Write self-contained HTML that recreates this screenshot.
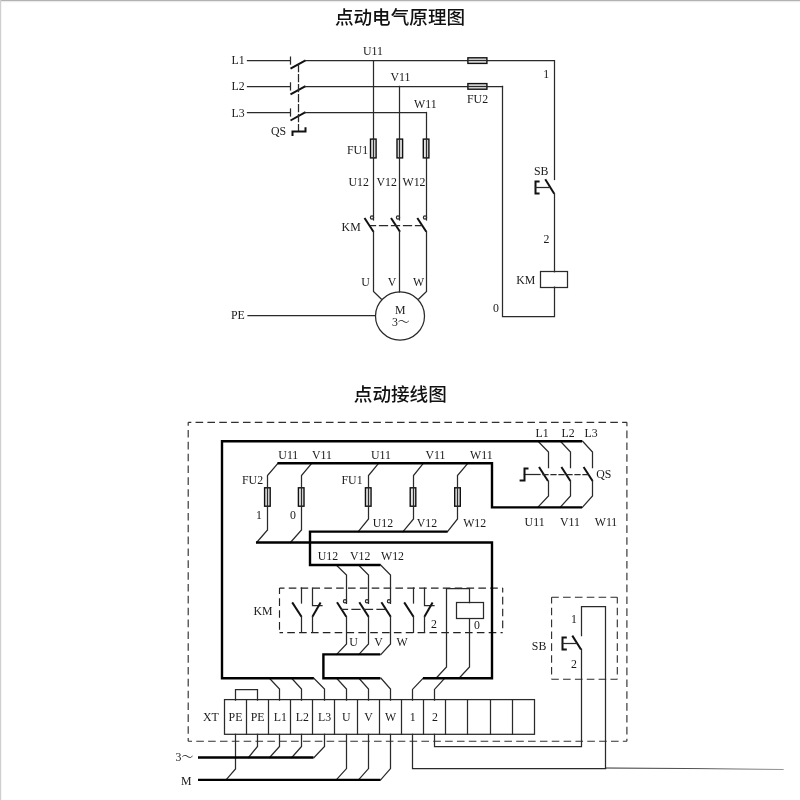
<!DOCTYPE html>
<html lang="zh">
<head>
<meta charset="utf-8">
<title>点动电气原理图</title>
<style>
html,body{margin:0;padding:0;background:#fff;}
body{width:800px;height:800px;overflow:hidden;}
svg{display:block;}
.t{stroke:#2a2a2a;stroke-width:1.25;fill:none;stroke-linecap:square;}
.f{stroke:#111;stroke-width:1.4;fill:#e4e4e4;}
.b{stroke:#111;stroke-width:2.0;fill:none;stroke-linecap:butt;}
.k{stroke:#000;stroke-width:2.4;fill:none;stroke-linejoin:miter;}
.lb{font-family:"Liberation Serif","Noto Serif CJK SC",serif;font-size:12.9px;fill:#1a1a1a;}
.ti{font-family:"Liberation Sans","Noto Sans CJK SC",sans-serif;font-size:18.6px;font-weight:500;fill:#111;}
</style>
</head>
<body>
<svg width="800" height="800" viewBox="0 0 800 800">
<defs>
<linearGradient id="fade" gradientUnits="userSpaceOnUse" x1="605" y1="0" x2="790" y2="0">
<stop offset="0" stop-color="#2a2a2a"/><stop offset="0.5" stop-color="#555"/><stop offset="1" stop-color="#999"/>
</linearGradient>
</defs>
<rect x="0" y="0" width="800" height="800" fill="#fff"/>
<rect x="0" y="0" width="800" height="1.2" fill="#b2b2b2"/>
<rect x="0" y="1.2" width="800" height="1" fill="#ececec"/>
<rect x="0" y="0" width="1.2" height="800" fill="#cfcfcf"/>
<g id="thin">
<path class="t" d="M247.5 60.5 L290 60.5"/>
<path class="t" d="M290.5 57.1 L290.5 64.1"/>
<path class="b" d="M290.5 68.6 L305.5 60.3"/>
<path class="t" d="M305 60.5 L554.4 60.5"/>
<path class="t" d="M247.5 86.5 L290 86.5"/>
<path class="t" d="M290.5 82.9 L290.5 89.9"/>
<path class="b" d="M290.5 94.4 L305.5 86.1"/>
<path class="t" d="M305 86.5 L502.5 86.5"/>
<path class="t" d="M247.5 112.5 L290 112.5"/>
<path class="t" d="M290.5 109 L290.5 116"/>
<path class="b" d="M290.5 120.5 L305.5 112.2"/>
<path class="t" d="M305 112.5 L426.1 112.5"/>
<path class="t" d="M298.5 64.6 L298.5 131" stroke-dasharray="7 3" stroke-linecap="butt" stroke-width="0.9"/>
<path class="b" d="M292.5 136 L292.5 131.5 L305.5 131.5 L305.5 127.2" stroke-width="1.3"/>
<rect class="f" x="467.9" y="57.8" width="19" height="5.6"/>
<path class="t" d="M467.9 60.5 L486.9 60.5" stroke-width="0.8"/>
<rect class="f" x="467.9" y="83.6" width="19" height="5.6"/>
<path class="t" d="M467.9 86.5 L486.9 86.5" stroke-width="0.8"/>
<path class="t" d="M373.5 60.6 L373.5 220"/>
<rect class="f" x="370.5" y="139.1" width="5.6" height="18.8"/>
<path class="t" d="M373.5 139 L373.5 158" stroke-width="0.8"/>
<path class="b" d="M364.5 218 L373.5 231.8"/>
<path class="t" d="M399.5 86.4 L399.5 220"/>
<rect class="f" x="397" y="139.1" width="5.6" height="18.8"/>
<path class="t" d="M399.5 139 L399.5 158" stroke-width="0.8"/>
<path class="b" d="M391 218 L400 231.8"/>
<path class="t" d="M426.5 112.5 L426.5 220"/>
<rect class="f" x="423.3" y="139.1" width="5.6" height="18.8"/>
<path class="t" d="M426.5 139 L426.5 158" stroke-width="0.8"/>
<path class="b" d="M417.3 218 L426.3 231.8"/>
<path class="t" d="M370.5 225.5 L421 225.5" stroke-width="1.05" stroke-linecap="butt" stroke-dasharray="8 4" stroke-dashoffset="3"/>
<path class="t" d="M373.5 231.5 L373.5 291.5 L381.3 299"/>
<path class="t" d="M399.5 231.5 L399.5 292"/>
<path class="t" d="M426.5 231.5 L426.5 291.5 L418.7 299"/>
<path class="t" d="M248 315.5 L375.4 315.5"/>
<path class="t" d="M554.5 60.75 L554.5 179.5"/>
<path class="b" d="M545.25 179.2 L554.25 193.75"/>
<path class="t" d="M554.5 193.75 L554.5 271.75"/>
<rect class="t" x="540.5" y="271.5" width="27" height="16" fill="none"/>
<path class="t" d="M554.5 287.2 L554.5 316.5 L502.5 316.5 L502.5 86.25"/>
<path class="b" d="M539.6 181.5 L535.5 181.5 L535.5 193.5 L539.6 193.5" stroke-width="1.4"/>
<path class="t" d="M535.5 187.5 L549 187.5" stroke-width="1.2"/>
<path d="M188.2 422.3 L626.9 422.3" fill="none" stroke="#303030" stroke-width="1.15" stroke-dasharray="7.6 4.25" stroke-dashoffset="4.5"/>
<path d="M188.2 422.3 L188.2 741.2" fill="none" stroke="#303030" stroke-width="1.15" stroke-dasharray="7.6 4.25" stroke-dashoffset="4.2"/>
<path d="M188.2 741.2 L626.9 741.2" fill="none" stroke="#303030" stroke-width="1.15" stroke-dasharray="7.6 4.25" stroke-dashoffset="3.8"/>
<path d="M626.9 422.3 L626.9 741.2" fill="none" stroke="#303030" stroke-width="1.15" stroke-dasharray="7.6 4.25" stroke-dashoffset="3.6"/>
<path class="t" d="M538 441.2 L548.5 452 L548.5 467.5"/>
<path class="b" d="M539 467 L548 481"/>
<path class="t" d="M548.5 481 L548.5 496 L537.7 507.4"/>
<path class="t" d="M560.4 441.2 L570.5 452 L570.5 467.5"/>
<path class="b" d="M561.4 467 L570.4 481"/>
<path class="t" d="M570.5 481 L570.5 496 L560.1 507.4"/>
<path class="t" d="M582.6 441.2 L592.5 452 L592.5 467.5"/>
<path class="b" d="M583.6 467 L592.6 481"/>
<path class="t" d="M592.5 481 L592.5 496 L582.3 507.4"/>
<path class="t" d="M524.4 474.5 L540 474.5" stroke-width="1"/>
<path class="t" d="M543 474.5 L590 474.5" stroke-dasharray="5 3" stroke-linecap="butt" stroke-width="1"/>
<path class="b" d="M528.5 468.5 L524.5 468.5 L524.5 480.5 L519.6 480.5" stroke-width="1.35"/>
<path class="t" d="M278.1 463.2 L267.5 475.5 L267.5 530 L256.6 542.5"/>
<rect class="f" x="264.6" y="487.8" width="5.6" height="18.4"/>
<path class="t" d="M267.5 487.8 L267.5 506.2" stroke-width="0.8"/>
<path class="t" d="M311.9 463.2 L301.5 475.5 L301.5 530 L290.4 542.5"/>
<rect class="f" x="298.4" y="487.8" width="5.6" height="18.4"/>
<path class="t" d="M301.5 487.8 L301.5 506.2" stroke-width="0.8"/>
<path class="t" d="M378.75 463.2 L368.5 475.5 L368.5 519 L358.25 531.6"/>
<rect class="f" x="365.45" y="487.8" width="5.6" height="18.4"/>
<path class="t" d="M368.5 487.8 L368.5 506.2" stroke-width="0.8"/>
<path class="t" d="M423.5 463.2 L413.5 475.5 L413.5 519 L403 531.6"/>
<rect class="f" x="410.2" y="487.8" width="5.6" height="18.4"/>
<path class="t" d="M413.5 487.8 L413.5 506.2" stroke-width="0.8"/>
<path class="t" d="M468 463.2 L457.5 475.5 L457.5 519 L447.5 531.6"/>
<rect class="f" x="454.7" y="487.8" width="5.6" height="18.4"/>
<path class="t" d="M457.5 487.8 L457.5 506.2" stroke-width="0.8"/>
<path d="M279.5 588.1 L502.7 588.1" fill="none" stroke="#222" stroke-width="1.15" stroke-dasharray="7.6 4.25" stroke-dashoffset="2.6"/>
<path d="M279.5 588.1 L279.5 632.6" fill="none" stroke="#222" stroke-width="1.15" stroke-dasharray="7.6 4.25" stroke-dashoffset="1.6"/>
<path d="M279.5 632.6 L502.7 632.6" fill="none" stroke="#222" stroke-width="1.15" stroke-dasharray="7.6 4.25" stroke-dashoffset="4.1"/>
<path d="M502.7 588.1 L502.7 632.6" fill="none" stroke="#222" stroke-width="1.15" stroke-dasharray="7.6 4.25" stroke-dashoffset="3.1"/>
<path class="t" d="M301.5 588 L301.5 603"/>
<path class="b" d="M292.2 602.4 L301.5 616.8"/>
<path class="t" d="M301.5 616.5 L301.5 632.4"/>
<path class="t" d="M413.5 588 L413.5 603"/>
<path class="b" d="M404.2 602.4 L413.5 616.8"/>
<path class="t" d="M413.5 616.5 L413.5 632.4"/>
<path class="t" d="M312.5 588 L312.5 605.5 L322 605.5"/>
<path class="b" d="M320.6 602.6 L312.4 616.8"/>
<path class="t" d="M312.5 616.5 L312.5 632.4"/>
<path class="t" d="M424.5 588 L424.5 605.5 L434 605.5"/>
<path class="b" d="M432.6 602.6 L424.4 616.8"/>
<path class="t" d="M424.5 616.5 L424.5 632.4"/>
<path class="t" d="M336.2 565 L346.5 575 L346.5 603.4"/>
<path class="b" d="M337 602.3 L346.3 616.8"/>
<path class="t" d="M346.5 616.5 L346.5 644 L336.6 654.4"/>
<path class="t" d="M336.6 678.2 L346.5 689 L346.5 700"/>
<path class="t" d="M346.5 734.4 L346.5 768.6 L336.2 779.9"/>
<path class="t" d="M358.5 565 L368.5 575 L368.5 603.4"/>
<path class="b" d="M359.3 602.3 L368.6 616.8"/>
<path class="t" d="M368.5 616.5 L368.5 644 L358.9 654.4"/>
<path class="t" d="M358.9 678.2 L368.5 689 L368.5 700"/>
<path class="t" d="M368.5 734.4 L368.5 768.6 L358.5 779.9"/>
<path class="t" d="M380.6 565 L390.5 575 L390.5 603.4"/>
<path class="b" d="M381.4 602.3 L390.7 616.8"/>
<path class="t" d="M390.5 616.5 L390.5 644 L381 654.4"/>
<path class="t" d="M381 678.2 L390.5 689 L390.5 700"/>
<path class="t" d="M390.5 734.4 L390.5 768.6 L380.6 779.9"/>
<path class="t" d="M341.5 609.4 L385.5 609.4" stroke-width="1.05" stroke-linecap="butt" stroke-dasharray="8 4.5" stroke-dashoffset="2"/>
<rect class="t" x="456.5" y="602.5" width="27" height="16" fill="none"/>
<path class="t" d="M469.5 602.6 L469.5 588.5 L446.5 588.5 L446.5 667 L436 678.3"/>
<path class="t" d="M469.5 618.6 L469.5 667 L459 678.3"/>
<path class="t" d="M423 678.3 L412.5 689.4 L412.5 700"/>
<path class="t" d="M444.6 678.3 L434.5 689.4 L434.5 700"/>
<path class="t" d="M269.4 678.2 L279.5 689 L279.5 700"/>
<path class="t" d="M279.5 734.4 L279.5 746.5 L269.6 757.5"/>
<path class="t" d="M291.6 678.2 L301.5 689 L301.5 700"/>
<path class="t" d="M301.5 734.4 L301.5 746.5 L291.8 757.5"/>
<path class="t" d="M313.8 678.2 L324.5 689 L324.5 700"/>
<path class="t" d="M324.5 734.4 L324.5 746.5 L314 757.5"/>
<path class="t" d="M235.5 700 L235.5 689.5 L257.5 689.5 L257.5 700"/>
<path class="t" d="M235.5 734.4 L235.5 769 L226 779.9"/>
<path class="t" d="M257.5 734.4 L257.5 746.5 L248.5 757.5"/>
<rect class="t" x="224.5" y="699.6" width="310" height="34.7" fill="none"/>
<path class="t" d="M246.5 700 L246.5 734.4"/>
<path class="t" d="M268.5 700 L268.5 734.4"/>
<path class="t" d="M290.5 700 L290.5 734.4"/>
<path class="t" d="M312.5 700 L312.5 734.4"/>
<path class="t" d="M334.5 700 L334.5 734.4"/>
<path class="t" d="M357.5 700 L357.5 734.4"/>
<path class="t" d="M379.5 700 L379.5 734.4"/>
<path class="t" d="M401.5 700 L401.5 734.4"/>
<path class="t" d="M423.5 700 L423.5 734.4"/>
<path class="t" d="M445.5 700 L445.5 734.4"/>
<path class="t" d="M467.5 700 L467.5 734.4"/>
<path class="t" d="M490.5 700 L490.5 734.4"/>
<path class="t" d="M512.5 700 L512.5 734.4"/>
<path class="t" d="M412.5 734.4 L412.5 768.5 L605.6 768.5"/>
<path d="M605.5 768 L700 768.6 L783.7 769.5" stroke="url(#fade)" stroke-width="1" fill="none"/>
<path class="t" d="M434.5 734.4 L434.5 746.5 L581.5 746.5 L581.5 649.3"/>
<path class="b" d="M572.3 635.6 L581 649.5"/>
<path class="t" d="M581.5 635.6 L581.5 606.5 L605.5 606.5 L605.5 768"/>
<path d="M551.6 597.2 L617.3 597.2" fill="none" stroke="#2a2a2a" stroke-width="1.1" stroke-dasharray="7.6 4.25" stroke-dashoffset="0.4"/>
<path d="M551.6 597.2 L551.6 679.2" fill="none" stroke="#2a2a2a" stroke-width="1.1" stroke-dasharray="7.6 4.25" stroke-dashoffset="1.3"/>
<path d="M551.6 679.2 L617.3 679.2" fill="none" stroke="#2a2a2a" stroke-width="1.1" stroke-dasharray="7.6 4.25" stroke-dashoffset="0.4"/>
<path d="M617.3 597.2 L617.3 679.2" fill="none" stroke="#2a2a2a" stroke-width="1.1" stroke-dasharray="7.6 4.25" stroke-dashoffset="1.3"/>
<path class="b" d="M566.8 637.5 L562.5 637.5 L562.5 649.5 L566.8 649.5" stroke-width="1.4"/>
<path class="t" d="M562.4 643.5 L576.3 643.5"/>
<circle class="t" cx="372" cy="217.5" r="1.6" stroke-width="0.9"/>
<circle class="t" cx="398" cy="217.5" r="1.6" stroke-width="0.9"/>
<circle class="t" cx="425" cy="217.5" r="1.6" stroke-width="0.9"/>
<ellipse class="t" cx="400" cy="316" rx="24.5" ry="24.1" fill="none"/>
<circle class="t" cx="345" cy="601.3" r="1.6" stroke-width="0.9"/>
<circle class="t" cx="367" cy="601.3" r="1.6" stroke-width="0.9"/>
<circle class="t" cx="389" cy="601.3" r="1.6" stroke-width="0.9"/>
</g>
<g id="thick">
<path class="k" d="M582 441.2 L222 441.2 L222 678.2 L313.8 678.2"/>
<path class="k" d="M277.5 463.2 L492 463.2 L492 507.4 L582 507.4"/>
<path class="k" d="M447.5 531.6 L310 531.6 L310 565 L380.5 565"/>
<path class="k" d="M309 542.5 L492 542.5 L492 678.3 L423 678.3"/>
<path class="k" d="M256 542.5 L310 542.5" stroke-width="1.6"/>
<path class="k" d="M380.4 654.4 L323.4 654.4 L323.4 678.2 L380.4 678.2"/>
<path class="k" d="M198 757.5 L313.5 757.5" stroke-width="2.0"/>
<path class="k" d="M198 779.9 L380.4 779.9" stroke-width="2.0"/>
</g>
<g id="labels" opacity="0.999">
<text class="lb" transform="translate(231.5 64.2) scale(0.92 1)">L1</text>
<text class="lb" transform="translate(231.5 89.9) scale(0.92 1)">L2</text>
<text class="lb" transform="translate(231.5 116.6) scale(0.92 1)">L3</text>
<text class="lb" transform="translate(363 55) scale(0.92 1)">U11</text>
<text class="lb" transform="translate(390.5 80.75) scale(0.92 1)">V11</text>
<text class="lb" transform="translate(414 107.5) scale(0.92 1)">W11</text>
<text class="lb" transform="translate(467 103) scale(0.92 1)">FU2</text>
<text class="lb" transform="translate(543.3 77.5) scale(0.92 1)">1</text>
<text class="lb" transform="translate(271 135) scale(0.92 1)">QS</text>
<text class="lb" transform="translate(347 153.75) scale(0.92 1)">FU1</text>
<text class="lb" transform="translate(348.5 186) scale(0.92 1)">U12</text>
<text class="lb" transform="translate(376.5 186) scale(0.92 1)">V12</text>
<text class="lb" transform="translate(402.5 186) scale(0.92 1)">W12</text>
<text class="lb" transform="translate(341.6 231) scale(0.92 1)">KM</text>
<text class="lb" transform="translate(365.5 286.4) scale(0.92 1)" text-anchor="middle">U</text>
<text class="lb" transform="translate(392 286.4) scale(0.92 1)" text-anchor="middle">V</text>
<text class="lb" transform="translate(418.6 286.4) scale(0.92 1)" text-anchor="middle">W</text>
<text class="lb" transform="translate(400.2 314.2) scale(0.92 1)" text-anchor="middle">M</text>
<text class="lb" transform="translate(400.8 325.9) scale(0.92 1)" text-anchor="middle">3～</text>
<text class="lb" transform="translate(231 319.4) scale(0.92 1)">PE</text>
<text class="lb" transform="translate(534 175) scale(0.92 1)">SB</text>
<text class="lb" transform="translate(543.5 242.8) scale(0.92 1)">2</text>
<text class="lb" transform="translate(516.3 283.75) scale(0.92 1)">KM</text>
<text class="lb" transform="translate(493 311.8) scale(0.92 1)">0</text>
<text class="ti" x="400" y="23.5" text-anchor="middle">点动电气原理图</text>
<text class="ti" x="400.3" y="401" text-anchor="middle" font-size="18.9">点动接线图</text>
<text class="lb" transform="translate(542.2 436.6) scale(0.92 1)" text-anchor="middle">L1</text>
<text class="lb" transform="translate(568 436.6) scale(0.92 1)" text-anchor="middle">L2</text>
<text class="lb" transform="translate(591 436.6) scale(0.92 1)" text-anchor="middle">L3</text>
<text class="lb" transform="translate(596.3 478) scale(0.92 1)">QS</text>
<text class="lb" transform="translate(534.6 526) scale(0.92 1)" text-anchor="middle">U11</text>
<text class="lb" transform="translate(570 526) scale(0.92 1)" text-anchor="middle">V11</text>
<text class="lb" transform="translate(606 526) scale(0.92 1)" text-anchor="middle">W11</text>
<text class="lb" transform="translate(288.3 459) scale(0.92 1)" text-anchor="middle">U11</text>
<text class="lb" transform="translate(322 459) scale(0.92 1)" text-anchor="middle">V11</text>
<text class="lb" transform="translate(381 459) scale(0.92 1)" text-anchor="middle">U11</text>
<text class="lb" transform="translate(435.5 459) scale(0.92 1)" text-anchor="middle">V11</text>
<text class="lb" transform="translate(481.4 459) scale(0.92 1)" text-anchor="middle">W11</text>
<text class="lb" transform="translate(242 484) scale(0.92 1)">FU2</text>
<text class="lb" transform="translate(341.5 484) scale(0.92 1)">FU1</text>
<text class="lb" transform="translate(259 519) scale(0.92 1)" text-anchor="middle">1</text>
<text class="lb" transform="translate(293 519) scale(0.92 1)" text-anchor="middle">0</text>
<text class="lb" transform="translate(383 526.5) scale(0.92 1)" text-anchor="middle">U12</text>
<text class="lb" transform="translate(427 526.5) scale(0.92 1)" text-anchor="middle">V12</text>
<text class="lb" transform="translate(474.7 526.5) scale(0.92 1)" text-anchor="middle">W12</text>
<text class="lb" transform="translate(328 559.5) scale(0.92 1)" text-anchor="middle">U12</text>
<text class="lb" transform="translate(360.2 559.5) scale(0.92 1)" text-anchor="middle">V12</text>
<text class="lb" transform="translate(392.5 559.5) scale(0.92 1)" text-anchor="middle">W12</text>
<text class="lb" transform="translate(253.5 615) scale(0.92 1)">KM</text>
<text class="lb" transform="translate(353.5 646) scale(0.92 1)" text-anchor="middle">U</text>
<text class="lb" transform="translate(378.5 646) scale(0.92 1)" text-anchor="middle">V</text>
<text class="lb" transform="translate(402 646) scale(0.92 1)" text-anchor="middle">W</text>
<text class="lb" transform="translate(434 628) scale(0.92 1)" text-anchor="middle">2</text>
<text class="lb" transform="translate(477 629) scale(0.92 1)" text-anchor="middle">0</text>
<text class="lb" transform="translate(531.8 649.6) scale(0.92 1)">SB</text>
<text class="lb" transform="translate(574 622.5) scale(0.92 1)" text-anchor="middle">1</text>
<text class="lb" transform="translate(574 668.4) scale(0.92 1)" text-anchor="middle">2</text>
<text class="lb" transform="translate(210.8 720.8) scale(0.92 1)" text-anchor="middle">XT</text>
<text class="lb" transform="translate(235.479 720.8) scale(0.92 1)" text-anchor="middle">PE</text>
<text class="lb" transform="translate(257.636 720.8) scale(0.92 1)" text-anchor="middle">PE</text>
<text class="lb" transform="translate(280.293 720.8) scale(0.92 1)" text-anchor="middle">L1</text>
<text class="lb" transform="translate(302.45 720.8) scale(0.92 1)" text-anchor="middle">L2</text>
<text class="lb" transform="translate(324.607 720.8) scale(0.92 1)" text-anchor="middle">L3</text>
<text class="lb" transform="translate(346.264 720.8) scale(0.92 1)" text-anchor="middle">U</text>
<text class="lb" transform="translate(368.421 720.8) scale(0.92 1)" text-anchor="middle">V</text>
<text class="lb" transform="translate(390.579 720.8) scale(0.92 1)" text-anchor="middle">W</text>
<text class="lb" transform="translate(412.736 720.8) scale(0.92 1)" text-anchor="middle">1</text>
<text class="lb" transform="translate(434.893 720.8) scale(0.92 1)" text-anchor="middle">2</text>
<text class="lb" transform="translate(184.5 761.2) scale(0.92 1)" text-anchor="middle">3～</text>
<text class="lb" transform="translate(186.3 784.6) scale(0.92 1)" text-anchor="middle">M</text>
</g>
</svg>
</body>
</html>
